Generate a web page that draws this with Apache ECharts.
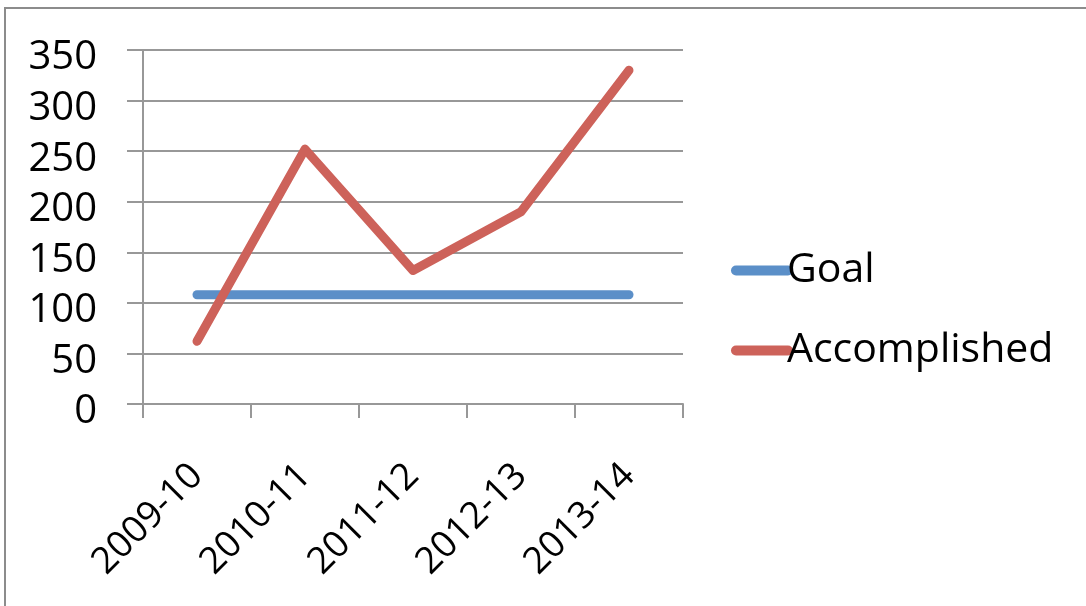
<!DOCTYPE html>
<html>
<head>
<meta charset="utf-8">
<script src="https://cdn.jsdelivr.net/npm/echarts@6/dist/echarts.min.js"></script>
<style>
  html, body { margin: 0; padding: 0; background: #fff; }
  #chart { width: 1086px; height: 606px; }
</style>
</head>
<body>
<div id="chart"></div>
<script>
// Fiscal years on the category axis
const years = ['2009-10', '2010-11', '2011-12', '2012-13', '2013-14'];
// Target per year
const goal = [108, 108, 108, 108, 108];
// Achieved per year
const accomplished = [62, 252, 132, 190, 330];
// Value-axis ticks
const yTicks = [0, 50, 100, 150, 200, 250, 300, 350];

const FONT = '"Open Sans", "Liberation Sans", sans-serif';
const GRID_COLOR = '#989898';

const chart = echarts.init(document.getElementById('chart'), null, { renderer: 'canvas' });

chart.setOption({
  backgroundColor: '#ffffff',
  animation: false,
  graphic: [{
    type: 'rect',
    shape: { x: 5, y: 8, width: 1200, height: 800 },
    style: { fill: 'none', stroke: '#8c8c8c', lineWidth: 2 },
    silent: true
  }],
  grid: { left: 143, right: 403, top: 50, bottom: 202, containLabel: false },
  legend: {
    orient: 'vertical',
    left: 726,
    top: 245,
    itemWidth: 62,
    itemHeight: 10,
    itemGap: 39,
    icon: 'path://M5,0 L57,0 A5,5 0 0 1 57,10 L5,10 A5,5 0 0 1 5,0 Z',
    textStyle: { fontFamily: FONT, fontSize: 41, color: '#000', padding: [0, 0, 0, -11] },
    data: ['Goal', 'Accomplished']
  },
  xAxis: {
    type: 'category',
    data: years,
    boundaryGap: true,
    axisLine: { lineStyle: { color: GRID_COLOR, width: 2 } },
    axisTick: { show: true, length: 14, lineStyle: { color: GRID_COLOR, width: 2 } },
    axisLabel: {
      interval: 0,
      rotate: 45,
      margin: 66,
      fontFamily: FONT,
      fontSize: 37,
      color: '#000'
    }
  },
  yAxis: {
    type: 'value',
    min: yTicks[0],
    max: yTicks[yTicks.length - 1],
    interval: yTicks[1] - yTicks[0],
    axisLine: { show: true, lineStyle: { color: GRID_COLOR, width: 2 } },
    axisTick: { show: true, length: 16, lineStyle: { color: GRID_COLOR, width: 2 } },
    splitLine: { show: true, lineStyle: { color: GRID_COLOR, width: 2 } },
    axisLabel: {
      margin: 46,
      verticalAlign: 'top',
      lineHeight: 16,
      fontFamily: FONT,
      fontSize: 40,
      color: '#000'
    }
  },
  series: [
    {
      name: 'Goal',
      type: 'line',
      data: goal,
      symbol: 'none',
      color: '#5b8fc8',
      lineStyle: { width: 9, cap: 'round', join: 'round', color: '#5b8fc8' }
    },
    {
      name: 'Accomplished',
      type: 'line',
      data: accomplished,
      symbol: 'none',
      color: '#cd625a',
      lineStyle: { width: 9, cap: 'round', join: 'round', color: '#cd625a' }
    }
  ]
});
</script>
</body>
</html>
